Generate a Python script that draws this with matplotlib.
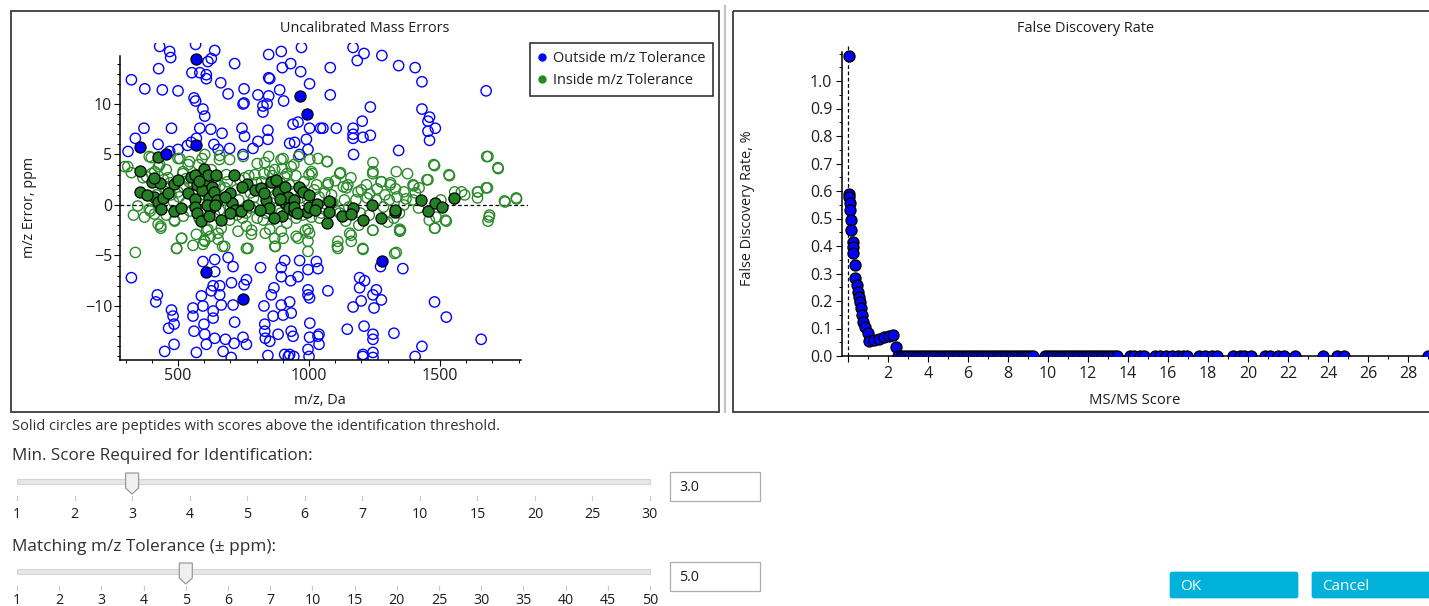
import matplotlib
matplotlib.use('Agg')
import matplotlib.pyplot as plt
from matplotlib.patches import Rectangle, Polygon, FancyBboxPatch
from matplotlib.lines import Line2D
from matplotlib.ticker import MultipleLocator, FixedLocator

plt.rcParams['font.family'] = ['Open Sans', 'DejaVu Sans']

# ---------------------------------------------------------------- data
# Uncalibrated mass errors: (m/z in Da, error in ppm)
outside_open = [
    (430, 15.7), (468, 15.2), (472, 14.6), (567, 15.9), (640, 15.3), (627, 14.5), (614, 14.2), (716, 14.0),
    (426, 13.5), (553, 13.1), (583, 13.1), (608, 12.9), (608, 12.5), (322, 12.4), (373, 11.5), (440, 11.4),
    (500, 11.3), (663, 12.1), (691, 11.0), (752, 11.5), (805, 10.9), (846, 12.6), (850, 12.5), (894, 15.2),
    (971, 15.6), (846, 14.9), (930, 14.0), (898, 13.6), (968, 13.2), (1002, 12.0), (888, 11.4), (903, 10.3),
    (846, 10.8), (840, 10.0), (824, 9.8), (824, 9.2), (561, 10.6), (567, 10.3), (595, 9.5), (602, 8.8),
    (748, 10.0), (752, 10.1), (939, 8.0), (958, 8.2), (1002, 7.6), (1044, 7.6), (843, 7.4), (843, 6.5),
    (805, 6.3), (786, 5.6), (754, 6.8), (744, 7.6), (668, 7.1), (625, 7.5), (583, 7.6), (570, 6.6),
    (551, 6.2), (536, 5.9), (475, 7.6), (370, 7.6), (337, 6.6), (424, 6.0), (500, 5.5), (468, 5.3),
    (309, 5.3), (637, 6.0), (653, 5.5), (697, 5.6), (748, 5.0), (926, 6.1), (945, 6.2), (990, 6.5),
    (996, 5.5), (964, 5.0),
    (1168, 15.6), (1210, 15.0), (1184, 14.3), (1278, 14.8), (1081, 13.6), (1342, 13.8), (1405, 13.6),
    (1431, 12.2), (1081, 10.9), (1676, 11.3), (1234, 9.7), (1431, 9.5), (1460, 8.7), (1454, 8.3),
    (1203, 8.3), (1053, 7.6), (1104, 7.6), (1168, 7.6), (1168, 7.0), (1168, 6.6), (1206, 6.7), (1234, 6.9),
    (1482, 7.6), (1454, 7.3), (1460, 6.4), (1170, 5.0), (1342, 5.4),
    (322, -7.2), (421, -8.9), (415, -9.6), (475, -10.4), (481, -11.0), (485, -11.8), (464, -12.2), (485, -13.8),
    (449, -14.5), (570, -14.6), (595, -5.6), (640, -5.4), (640, -6.6), (710, -6.1), (691, -5.2), (634, -8.0),
    (659, -8.0), (627, -8.5), (659, -8.9), (704, -7.7), (761, -7.4), (752, -7.9), (589, -9.0), (557, -10.2),
    (595, -10.0), (634, -10.5), (634, -11.2), (599, -11.8), (665, -9.9), (710, -9.9), (716, -11.6), (557, -11.0),
    (561, -12.5), (602, -12.8), (640, -13.2), (608, -13.8), (681, -13.3), (714, -13.7), (748, -13.1), (761, -13.8),
    (672, -14.5), (703, -15.1), (815, -6.2), (828, -10.0), (831, -11.8), (831, -12.5), (833, -13.2), (850, -13.5),
    (843, -14.9), (863, -11.0), (866, -8.2), (856, -8.9), (882, -12.8), (894, -9.9), (901, -10.9), (907, -5.5),
    (894, -6.2), (894, -7.1), (930, -7.5), (932, -10.7), (926, -9.6), (932, -12.5), (939, -13.0), (907, -14.8),
    (926, -14.8), (958, -7.1), (964, -5.5), (996, -6.4), (996, -8.4), (996, -8.9), (1002, -9.2), (1003, -11.7),
    (1002, -13.1), (996, -14.3), (1028, -5.6), (1034, -6.3), (1038, -12.8), (1038, -13.8),
    (921, -15.0), (942, -15.0), (1000, -15.0), (1205, -15.0), (1244, -15.1),
    (1273, -6.1), (1358, -6.3), (1193, -7.2), (1212, -7.5), (1193, -8.2), (1257, -8.4), (1244, -8.9),
    (1276, -9.4), (1199, -9.5), (1168, -10.1), (1248, -10.2), (1072, -8.5), (1479, -9.6), (1524, -11.1),
    (1146, -12.3), (1210, -12.0), (1244, -12.8), (1244, -13.3), (1324, -12.7), (1657, -13.3), (1431, -14.0),
    (1405, -15.0), (1206, -14.8), (1244, -14.6), (1034, -13.0),
]
outside_solid = [
    (567, 14.5), (967, 10.8), (992, 9.0), (356, 5.7), (567, 5.9), (455, 5.0), (608, -6.6), (749, -9.3), (1278, -5.5),
]
inside_open = [
    (308, 3.8), (337, -4.7), (390, 4.8), (399, 3.1), (425, 3.8), (434, -2.1), (455, 3.5), (460, 1.8),
    (483, 0.3), (486, -1.5), (495, -4.3), (507, 4.6), (518, 3.1), (521, 1.8), (514, -3.3), (539, 4.0),
    (557, -4.0), (578, 4.0), (592, 4.6), (600, -3.5), (609, -2.5), (623, -3.1), (653, -2.8), (658, 4.5),
    (670, -4.1), (679, 1.7), (749, 4.8), (767, -4.3), (776, 1.2), (781, -2.5), (802, 4.1), (828, 3.1),
    (833, -2.8), (846, 4.8), (872, -4.1), (893, 4.5), (898, 3.6), (916, 3.1), (942, 4.0), (951, -3.1),
    (960, 4.8), (986, -2.5), (1003, 4.5), (1012, 3.1), (1029, 2.0), (1047, -0.8), (1068, 4.3), (1073, 2.2),
    (1086, 1.0), (1108, -4.1), (1117, 3.1), (1135, 0.5), (1143, 1.7), (1161, -3.0), (1187, 1.3), (1205, -4.3),
    (1222, 0.7), (1243, 3.1), (1243, -2.5), (1275, 2.3), (1310, 2.0), (1327, -4.8), (1336, 0.8), (1349, -2.5),
    (1362, 1.3), (1376, 3.1), (1397, 2.0), (1406, 1.2), (1450, 2.5), (1476, 4.0), (1481, -2.3), (1485, -1.2),
    (1520, -1.5), (1534, 3.0), (1582, 1.3), (1643, 1.3), (1678, 4.8), (1681, 1.7), (1687, -1.2), (1722, 3.6),
    (1748, 0.3), (1792, 0.6), (1643, 0.7), (1555, 0.6),
    (346, -0.1), (390, -0.4), (417, 1.0), (451, 1.7), (473, 1.0), (504, 0.8), (530, 0.2), (542, 2.3),
    (557, 1.2), (583, 0.5), (630, 0.2), (641, 2.3), (658, -0.5), (679, 0.5), (688, 2.3), (697, -1.5),
    (723, 1.5), (732, 0.5), (746, -1.3), (776, -0.3), (788, 0.7), (802, -1.3), (819, 2.3), (837, -0.8),
    (858, 0.2), (872, 0.7), (893, -0.8), (907, 2.8), (933, 1.3), (951, -1.3), (968, 0.7), (981, 2.3),
    (995, 0.5), (1009, -1.2), (1038, 0.8), (1056, -0.2), (1091, 0.2), (1117, -0.8), (1131, 1.8), (1152, -0.2),
    (1179, 0.5), (1196, -0.8), (1219, 2.0), (1257, 0.5), (1284, -0.2), (1306, 0.5), (1324, -1.3), (1345, -0.8),
    (1362, 0.0), (1397, 0.5), (1418, -0.3), (1459, -1.5), (1503, 0.5),
    (394, -0.6), (424, -1.9), (434, -2.3), (487, -1.6), (513, -3.3), (494, -4.3), (570, -2.9), (595, -3.9),
    (602, -3.6), (614, -2.4), (653, -3.4), (678, -4.1), (665, -2.3), (729, -2.6), (761, -4.3), (761, -2.1),
    (780, -2.9), (850, -2.4), (869, -3.3), (869, -4.1), (894, -2.6), (901, -3.3), (958, -3.3), (996, -2.4),
    (996, -3.6), (996, -4.6), (1002, -2.8),
    (1244, -2.5), (1346, -2.4), (1346, -2.6), (1479, -2.3), (1524, -1.6), (1683, -1.6), (1689, -1.0),
    (1110, -3.6), (1155, -2.8), (1161, -3.6), (1206, -4.4), (1110, -4.3), (1333, -4.7),
    (1070, 4.3), (1244, 4.2), (1244, 3.3), (1120, 3.2), (1333, 3.3), (1479, 3.9), (1536, 2.9), (1683, 4.8),
    (1721, 3.7), (1454, 2.5), (1276, 2.3), (1311, 2.2), (1400, 1.9), (1072, 2.0), (1148, 2.0), (1676, 1.7),
    (1645, 1.3), (1746, 0.4), (1791, 0.7), (1231, 1.1), (1556, 1.3), (1594, 1.0),
    (296, 3.8), (398, 4.7), (430, 4.0), (500, 4.6), (544, 4.3), (602, 5.0), (659, 4.9), (697, 4.5),
    (831, 4.2), (869, 3.5), (901, 4.6), (932, 3.8), (1034, 4.6), (1009, 3.3), (850, 3.3), (793, 3.0),
    (754, 2.7), (684, 3.0), (627, 3.5), (519, 3.3), (462, 2.7), (411, 3.3), (366, 2.7), (322, 3.2),
    (330, -1.0), (372, -1.2), (410, -0.9), (455, -1.0), (520, -1.1), (545, -0.6), (580, -1.3), (640, -1.0),
    (700, -0.3), (725, -1.0), (760, -0.8), (790, -0.2), (825, -1.5), (880, -0.3), (915, -1.8), (935, -0.6),
    (975, -1.0), (1040, -1.3), (1100, -0.5), (1140, -1.6), (1190, -2.0), (1230, -1.0), (1300, -1.7),
    (380, 2.8), (445, 2.5), (470, 2.2), (500, 1.3), (530, 2.6), (560, 2.0), (600, 1.0), (620, 2.6),
    (660, 1.9), (690, 0.9), (735, 2.5), (770, 2.9), (800, 2.2), (845, 1.7), (860, 2.9), (890, 2.2),
    (925, 2.0), (950, 2.9), (970, 1.6), (1000, 3.0), (1020, 1.5), (1060, 1.2), (1100, 2.4), (1160, 2.7),
    (1200, 1.5), (1260, 1.6), (1290, 1.0), (1330, 1.6), (1370, 0.6), (1420, 1.7),
]
inside_solid = [
    (355, 3.4), (355, 1.3), (399, 2.3), (430, 2.2), (425, 4.8), (408, 0.8), (425, 0.3), (434, -0.4),
    (443, 0.7), (483, 2.1), (483, -0.6), (513, -0.3), (539, 1.2), (548, 2.8), (565, 3.0), (571, 2.0),
    (565, 0.6), (565, -0.2), (571, -0.8), (588, -1.6), (592, 1.5), (600, 3.6), (605, 2.5), (613, 3.0),
    (618, 0.7), (623, -0.4), (618, -1.1), (630, 1.8), (636, 1.3), (644, 3.0), (648, 0.5), (665, -1.5),
    (700, 1.2), (705, 0.2), (714, 3.0), (718, -0.5), (741, -0.6), (763, 2.1), (767, 0.0), (793, 1.5),
    (816, 1.7), (837, 0.5), (846, -0.3), (854, 2.3), (872, 2.5), (881, 1.3), (898, -1.1), (907, 1.8),
    (907, 0.2), (921, 0.8), (925, -0.3), (942, 0.5), (942, -0.6), (960, 1.8), (977, 1.3), (991, -0.7),
    (998, -0.2), (1029, 0.1), (1068, -1.8), (1079, 0.3), (1126, -1.1), (1166, -0.3), (1205, -1.5),
    (1240, 0.0), (1275, -1.3), (1327, -0.7), (1429, 0.5), (1455, -0.6), (1481, 0.2), (1506, -0.2),
    (1552, 0.7), (609, 0.0), (697, -0.8), (811, -0.5), (868, -1.3), (942, -0.2), (1021, -0.5),
    (1161, -0.9), (1329, -0.5), (1078, -0.7), (1078, 0.4),
    (380, 1.0), (410, 2.7), (460, 1.2), (500, 2.5), (580, 2.4), (640, 0.0), (680, 0.8), (745, 1.8),
    (830, 1.2), (890, 0.6), (955, -0.8), (1000, 1.0),
]

# False discovery rate vs MS/MS score
fdr_score = [0.03, 0.03, 0.07, 0.10, 0.10, 0.15, 0.15, 0.27, 0.27, 0.27, 0.37, 0.37, 0.44, 0.49,
             0.54, 0.60, 0.65, 0.70, 0.77, 0.87, 0.99, 1.07, 1.32, 1.54, 1.78, 2.04, 2.24, 2.38,
             2.50, 2.65, 2.80, 2.95, 3.10, 3.25, 3.40, 3.55, 3.70, 3.85, 4.00, 4.15, 4.30, 4.45,
             4.60, 4.75, 4.90, 5.05, 5.20, 5.35, 5.50, 5.65, 5.80, 5.95, 6.10, 6.25, 6.40, 6.55,
             6.70, 6.85, 7.00, 7.15, 7.30, 7.45, 7.60, 7.75, 7.90, 8.05, 8.20, 8.35, 8.50, 8.65,
             8.80, 8.95, 9.10, 9.25, 9.85, 10.00, 10.15, 10.30, 10.45, 10.60, 10.75, 10.90, 11.05,
             11.20, 11.35, 11.50, 11.65, 11.80, 11.95, 12.10, 12.25, 12.40, 12.55, 12.70, 12.85,
             13.00, 13.15, 13.30, 13.45, 14.10, 14.30, 14.60, 14.80, 15.35, 15.60, 15.90, 16.20,
             16.50, 16.75, 16.95, 17.55, 17.85, 18.20, 18.45, 19.25, 19.60, 19.80, 20.15, 20.85,
             21.10, 21.50, 21.80, 22.35, 23.75, 24.45, 24.80, 29.00]
fdr_rate = [1.09, 0.589, 0.577, 0.555, 0.531, 0.495, 0.458, 0.416, 0.397, 0.373, 0.331, 0.282,
            0.258, 0.234, 0.216, 0.198, 0.173, 0.149, 0.125, 0.104, 0.082, 0.056, 0.058, 0.061,
            0.068, 0.073, 0.076, 0.034] + [0.0] * 99

score_threshold = 0.0

# slider controls
score_labels = ['1', '2', '3', '4', '5', '6', '7', '10', '15', '20', '25', '30']
score_value = '3'
score_text = '3.0'
tol_labels = ['1', '2', '3', '4', '5', '6', '7', '10', '15', '20', '25', '30', '35', '40', '45', '50']
tol_value = '5'
tol_text = '5.0'

# ---------------------------------------------------------------- figure
W, H = 1429, 606
fig = plt.figure(figsize=(W / 100, H / 100), dpi=100)
fig.patch.set_facecolor('white')


def frect(x0, y0, x1, y1):
    return [x0 / W, 1 - y1 / H, (x1 - x0) / W, (y1 - y0) / H]


ov = fig.add_axes([0, 0, 1, 1], zorder=0)
ov.set_xlim(0, W)
ov.set_ylim(H, 0)
ov.axis('off')

BLUE = '#0000FF'
GREEN = '#2A8A2A'
TXT = '#1E1E1E'

fits = []


def otext(x, y, s, target, rot=0, **kw):
    t = ov.text(x, y, s, rotation=rot, fontsize=10, **kw)
    fits.append((t, target, rot))
    return t


# probe for tick / legend font size
probe = ov.text(0, 0, '1500', fontsize=10)
fig.canvas.draw()
r = fig.canvas.get_renderer()
tick_fs = 10 * 37 / probe.get_window_extent(r).width
probe.set_text('Outside m/z Tolerance')
leg_fs = 10 * 153 / probe.get_window_extent(r).width
probe.remove()

# panels
ov.add_patch(Rectangle((11, 11), 708, 401, fill=False, ec='#3A3A3A', lw=1.3))
ov.add_patch(Rectangle((733, 11), 760, 401, fill=False, ec='#3A3A3A', lw=1.3, clip_on=False))
ov.plot([725.5, 725.5], [6, 412], color='#C4C4C4', lw=1.6)

# ---------------------------------------------------------------- left chart
ax1 = fig.add_axes(frect(120.4, 43.4, 527.8, 359.5), zorder=2)
ax1.set_facecolor('none')
ax1.set_xlim(280, 1835)
ax1.set_ylim(-15.3, 16.0)
for sp in ('top', 'right'):
    ax1.spines[sp].set_visible(False)
ax1.spines['left'].set_bounds(-15.3, 14.8)
ax1.spines['bottom'].set_bounds(280, 1810)
for sp in ('left', 'bottom'):
    ax1.spines[sp].set_linewidth(1.1)
ax1.xaxis.set_major_locator(FixedLocator([500, 1000, 1500]))
ax1.xaxis.set_minor_locator(FixedLocator(list(range(300, 1900, 100))))
ax1.yaxis.set_major_locator(FixedLocator([-10, -5, 0, 5, 10]))
ax1.yaxis.set_minor_locator(FixedLocator(list(range(-15, 15))))
ax1.tick_params(which='major', length=4, width=0.8, direction='out', labelsize=tick_fs, labelcolor=TXT, pad=2)
ax1.tick_params(which='minor', length=2, width=0.7, direction='out')
ax1.axhline(0, color='black', lw=0.9, ls=(0, (3, 2)), zorder=1)

ax1.scatter([p[0] for p in outside_open], [p[1] for p in outside_open], s=55,
            facecolors='none', edgecolors=BLUE, linewidths=1.0, zorder=2)
ax1.scatter([p[0] for p in inside_open], [p[1] for p in inside_open], s=55,
            facecolors='none', edgecolors=GREEN, linewidths=1.0, zorder=2)
ax1.scatter([p[0] for p in inside_solid], [p[1] for p in inside_solid], s=64,
            facecolors='#257F25', edgecolors='black', linewidths=0.9, zorder=3)
ax1.scatter([p[0] for p in outside_solid], [p[1] for p in outside_solid], s=64,
            facecolors=BLUE, edgecolors='black', linewidths=0.9, zorder=4)

handles = [Line2D([], [], ls='', marker='o', color=BLUE, markersize=5),
           Line2D([], [], ls='', marker='o', color='#228B22', markersize=5)]
leg = ax1.legend(handles, ['Outside m/z Tolerance', 'Inside m/z Tolerance'], loc='upper left',
                 bbox_to_anchor=(530 / W, 1 - 43 / H), bbox_transform=fig.transFigure,
                 frameon=True, fancybox=False, edgecolor='black', borderaxespad=0,
                 handlelength=0.5, handletextpad=0.5, borderpad=0.55, labelspacing=0.5,
                 fontsize=leg_fs)
leg.get_frame().set_linewidth(1.2)
for t in leg.get_texts():
    t.set_color(TXT)

# ---------------------------------------------------------------- right chart
ax2 = fig.add_axes(frect(842, 45.25, 1448, 356), zorder=2)
ax2.set_facecolor('none')
ax2.set_xlim(-0.3, 30)
ax2.set_ylim(0, 1.13)
for sp in ('top', 'right'):
    ax2.spines[sp].set_visible(False)
ax2.spines['left'].set_bounds(0, 1.105)
for sp in ('left', 'bottom'):
    ax2.spines[sp].set_linewidth(1.1)
ax2.xaxis.set_major_locator(FixedLocator(list(range(0, 30, 2))))
ax2.set_xticklabels([''] + [str(v) for v in range(2, 30, 2)])
ax2.xaxis.set_minor_locator(FixedLocator(list(range(1, 31, 2))))
ax2.yaxis.set_minor_locator(MultipleLocator(0.05))
ax2.set_yticks([i / 10 for i in range(11)])
ax2.set_yticklabels([f'{i / 10:.1f}' for i in range(11)])
ax2.tick_params(which='major', length=4, width=0.8, direction='out', labelsize=tick_fs, labelcolor=TXT, pad=3)
ax2.tick_params(which='minor', length=2, width=0.7, direction='out')
ax2.axvline(score_threshold, color='black', lw=0.9, ls=(0, (3, 2)), zorder=1)
ax2.scatter(fdr_score, fdr_rate, s=62, facecolors=BLUE, edgecolors='black', linewidths=1.0, zorder=3)

# ---------------------------------------------------------------- titles / labels
otext(365, 29, 'Uncalibrated Mass Errors', 169, ha='center', va='center', color=TXT)
otext(1086, 29, 'False Discovery Rate', 137, ha='center', va='center', color=TXT)
otext(30, 207, 'm/z Error, ppm', 101, rot=90, ha='center', va='center', color=TXT)
otext(320, 401, 'm/z, Da', 52, ha='center', va='center', color=TXT)
otext(748, 208, 'False Discovery Rate, %', 156, rot=90, ha='center', va='center', color=TXT)
otext(1135, 401, 'MS/MS Score', 91, ha='center', va='center', color=TXT)

# ---------------------------------------------------------------- controls
otext(12, 427, 'Solid circles are peptides with scores above the identification threshold.', 486,
      ha='left', va='center', color='#303030')
otext(12, 456, 'Min. Score Required for Identification:', 301, ha='left', va='center', color='#303030')
otext(12, 547, 'Matching m/z Tolerance (± ppm):', 264, ha='left', va='center', color='#303030')

slider_fs = tick_fs * 0.88


def slider(labels, value, text, y_track, y_lab):
    x0, x1 = 17, 650
    step = (x1 - x0) / (len(labels) - 1)
    ov.add_patch(Rectangle((x0, y_track - 2.5), x1 - x0, 5, fc='#E6E6E6', ec='#D4D4D4', lw=0.8))
    for i, lab in enumerate(labels):
        x = x0 + i * step
        ov.plot([x, x], [y_track + 15, y_track + 19], color='#C8C8C8', lw=0.8)
        ov.text(x, y_lab, lab, ha='center', va='center', fontsize=slider_fs, color='#1A1A1A')
    xt = x0 + labels.index(value) * step
    ov.add_patch(Polygon([(xt - 6.5, y_track - 8), (xt + 6.5, y_track - 8), (xt + 6.5, y_track + 7),
                          (xt, y_track + 13), (xt - 6.5, y_track + 7)],
                         closed=True, fc='#F0F0F0', ec='#9A9A9A', lw=0.9, zorder=3))
    ov.add_patch(Rectangle((670, y_track - 9), 90, 29, fc='white', ec='#ABADB3', lw=0.9))
    ov.text(679, y_track + 6.5, text, ha='left', va='center', fontsize=slider_fs, color='#1A1A1A')


slider(score_labels, score_value, score_text, 481, 514)
slider(tol_labels, tol_value, tol_text, 571, 601)

BTN = '#00B1DA'
for x0, x1, lab in [(1170, 1298, 'OK'), (1312, 1440, 'Cancel')]:
    ov.add_patch(FancyBboxPatch((x0, 572), x1 - x0, 26, boxstyle='round,pad=0,rounding_size=2',
                                fc=BTN, ec=BTN, lw=0.5, clip_on=False))
    ov.text(x0 + 10, 586, lab, ha='left', va='center', fontsize=slider_fs * 1.08, color='white')

# fit text widths
fig.canvas.draw()
r = fig.canvas.get_renderer()
for t, target, rot in fits:
    bb = t.get_window_extent(r)
    size = bb.height if rot else bb.width
    t.set_fontsize(t.get_fontsize() * target / size)

fig.savefig('out.png', dpi=100, facecolor='white')
